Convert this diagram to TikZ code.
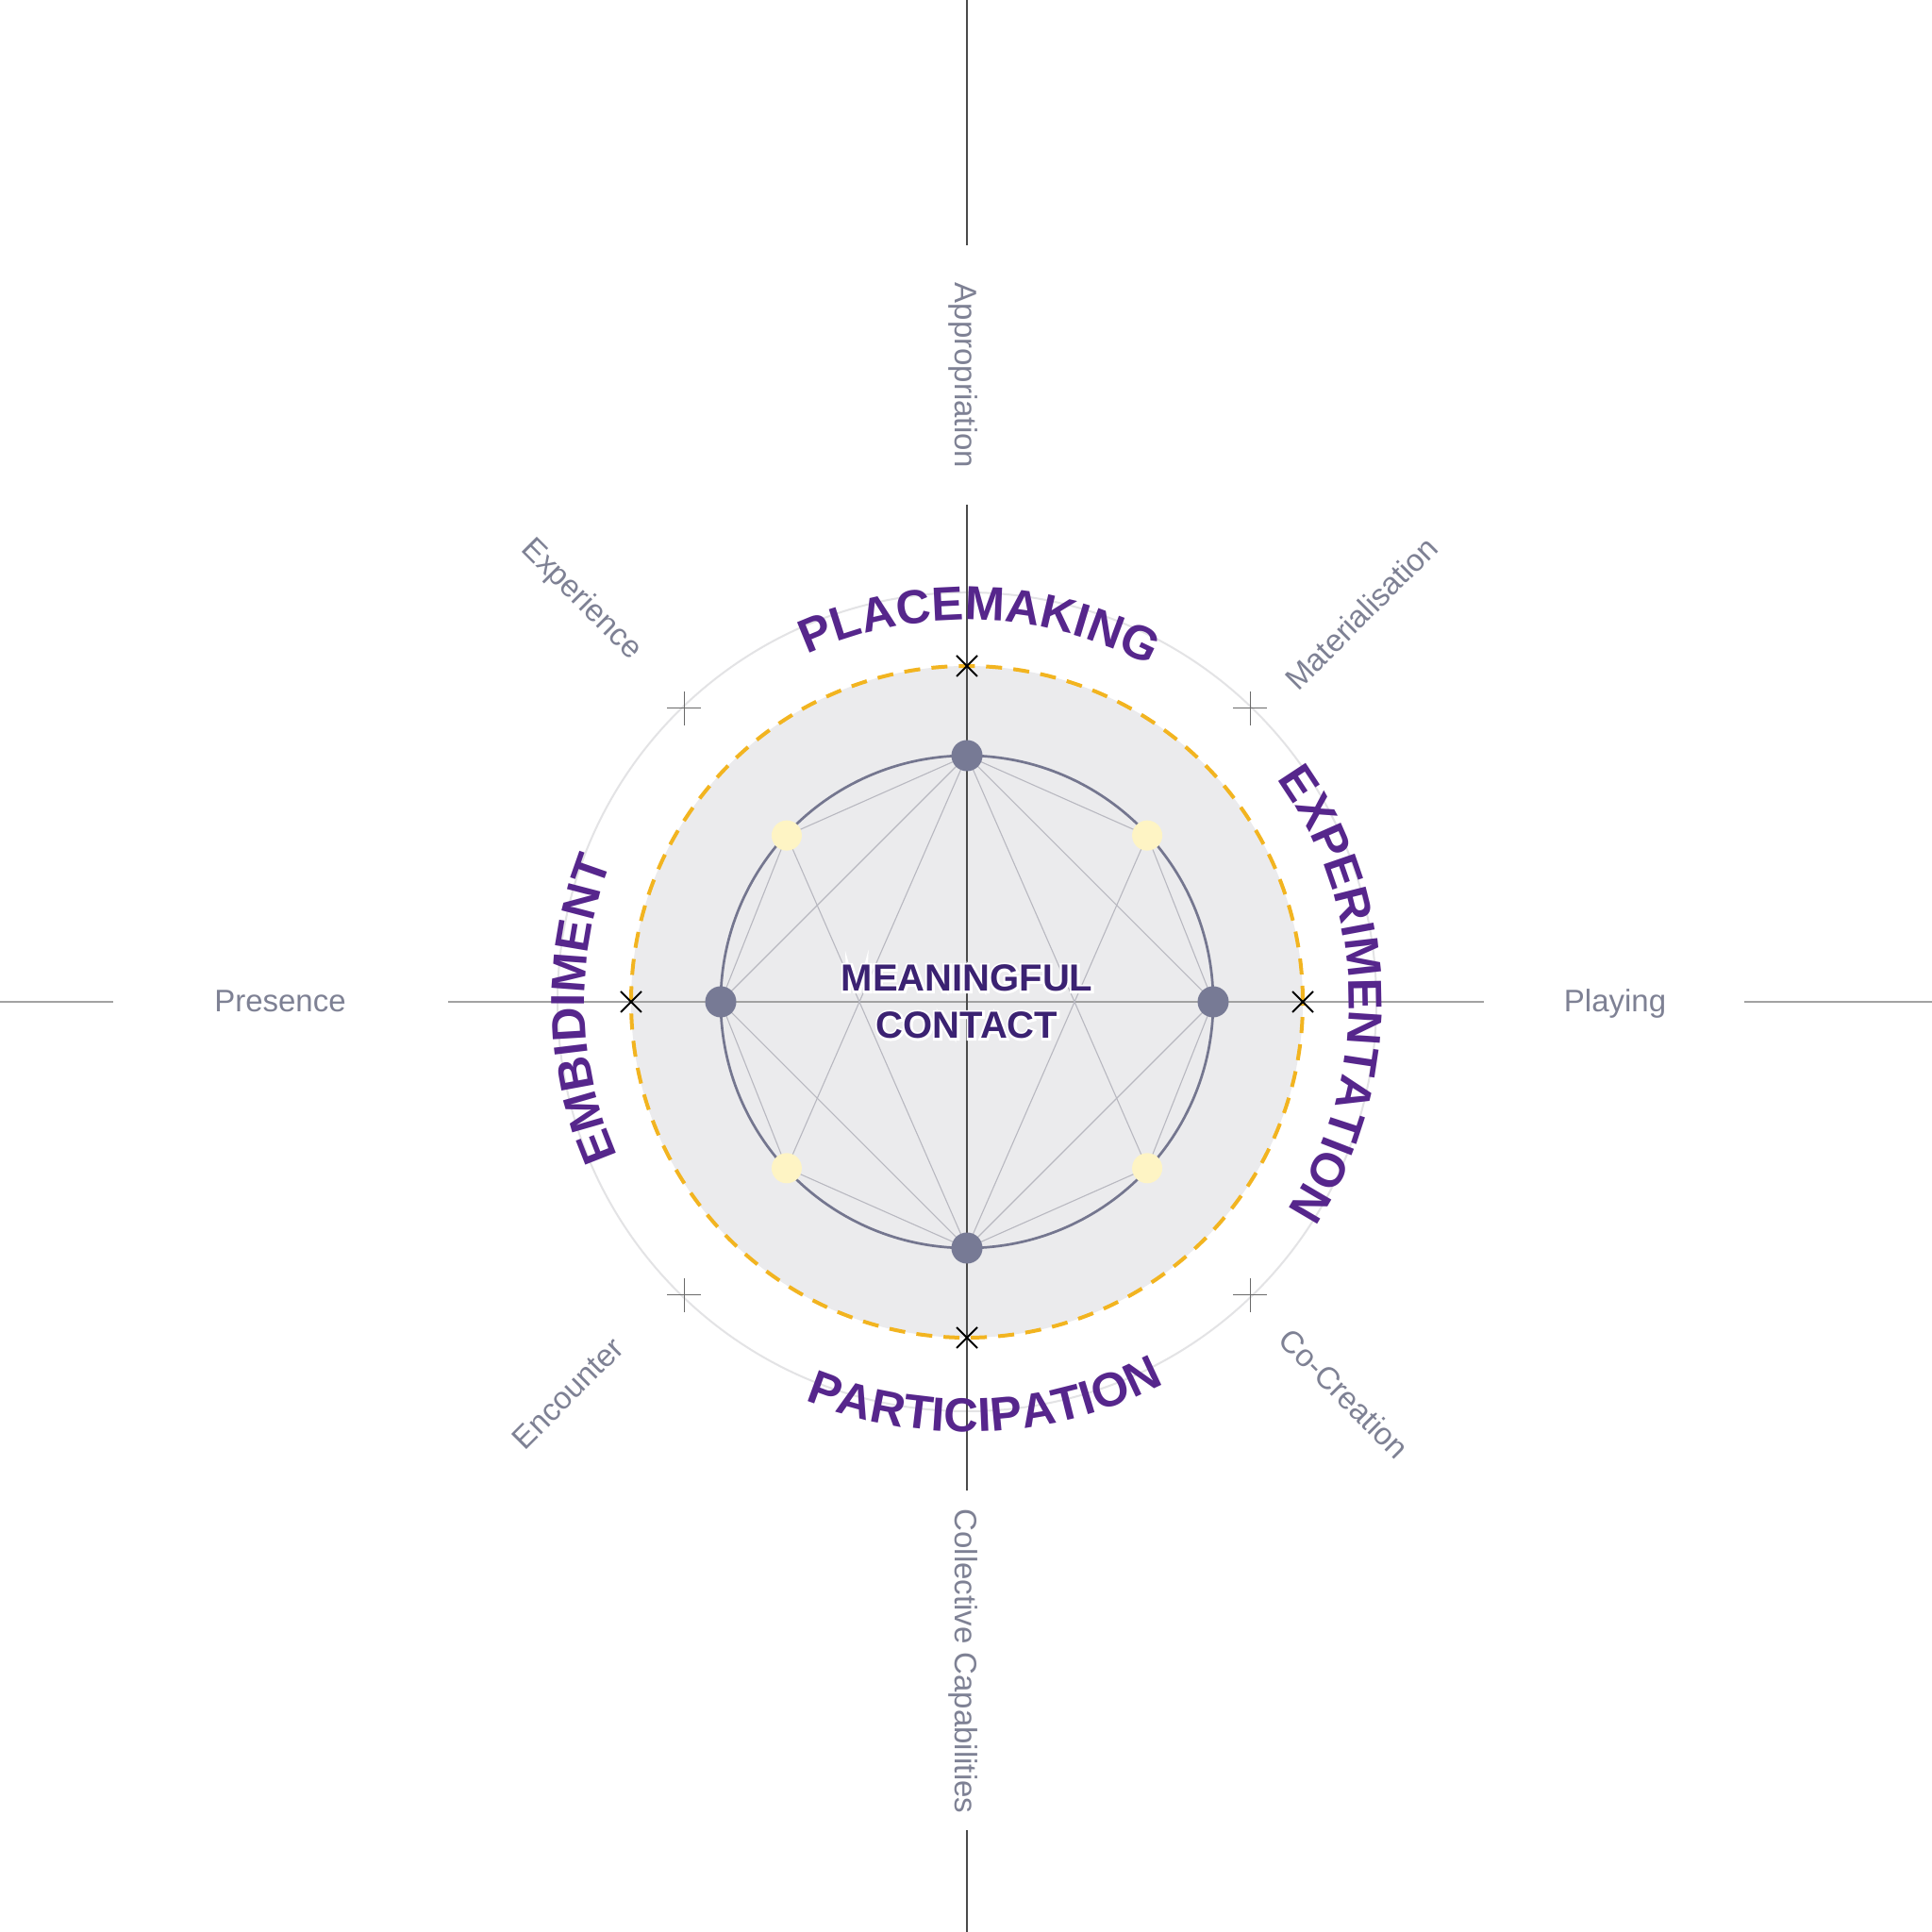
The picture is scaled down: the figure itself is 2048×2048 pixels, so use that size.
\documentclass[tikz,border=0pt]{standalone}
\usepackage{fontspec}
\setmainfont{Liberation Sans}
\newfontfamily\halofont[FakeBold=12]{Liberation Sans Bold}
\usetikzlibrary{decorations.text,calc,shapes.misc}
\definecolor{purp}{HTML}{56268C}
\definecolor{dpurp}{HTML}{3B2272}
\definecolor{lbl}{HTML}{7E8194}
\definecolor{diskc}{HTML}{EBEBED}
\definecolor{gold}{HTML}{F2B420}
\definecolor{ring}{HTML}{E3E3E5}
\definecolor{slate}{HTML}{777A95}
\definecolor{slatel}{HTML}{74768F}
\definecolor{chord}{HTML}{B8B8C0}
\definecolor{cream}{HTML}{FEF4C4}
\definecolor{axv}{HTML}{4A4A4A}
\definecolor{axh}{HTML}{A2A2A2}
\definecolor{crossc}{HTML}{6A6A6A}
\tikzset{
  lbltext/.style={text=lbl, font=\fontsize{16.5}{16.5}\selectfont, inner sep=0pt},
  gdot/.style={circle, fill=slate, minimum size=16.5pt, inner sep=0pt},
  ydot/.style={circle, fill=cream, minimum size=16pt, inner sep=0pt},
  chordline/.style={draw=chord, line width=0.55pt},
  xmk/.style={draw=black, cross out, minimum size=10pt, inner sep=0pt, line width=1pt},
  plusmk/.style={draw=crossc, cross out, rotate=45, minimum size=12pt, inner sep=0pt, line width=0.5pt},
  mctext/.style={font=\fontsize{20}{25}\selectfont\bfseries, align=center, inner sep=0pt},
  halotext/.style={font=\fontsize{20}{25}\selectfont\halofont, align=center, inner sep=0pt},
  vaxis/.style={draw=axv, line width=0.7pt},
  haxis/.style={draw=axh, line width=0.9pt},
}
\newcommand{\bigtxt}{\color{purp}\fontsize{25.3}{25.3}\selectfont\bfseries}
\begin{document}
\begin{tikzpicture}[x=0.5pt,y=0.5pt]
\useasboundingbox (0,0) rectangle (2048,2048);
\fill[white] (0,0) rectangle (2048,2048);
\begin{scope}[shift={(1025,986)}]
\coordinate (C) at (0,0);
% outer ring
\draw[ring, line width=1pt] (C) circle[radius=434];
% disk
\fill[diskc] (C) circle[radius=356];
\draw[gold, line width=2pt, dash pattern=on 8.5pt off 6pt] (C) circle[radius=356];
% axes
\coordinate (h1a) at (-1025,0); \coordinate (h1b) at (-905,0);
\coordinate (h2a) at (-550,0);  \coordinate (h2b) at (548,0);
\coordinate (h3a) at (824,0);   \coordinate (h3b) at (1023,0);
\coordinate (v1a) at (0,1062);  \coordinate (v1b) at (0,802);
\coordinate (v2a) at (0,527);   \coordinate (v2b) at (0,-518);
\coordinate (v3a) at (0,-878);  \coordinate (v3b) at (0,-986);
\draw[haxis] (h1a) -- (h1b);
\draw[haxis] (h2a) -- (h2b);
\draw[haxis] (h3a) -- (h3b);
\draw[vaxis] (v1a) -- (v1b);
\draw[vaxis] (v2a) -- (v2b);
\draw[vaxis] (v3a) -- (v3b);
% node positions
\coordinate (pT) at (90:261);
\coordinate (pB) at (270:261);
\coordinate (pL) at (180:261);
\coordinate (pR) at (0:261);
\coordinate (pTL) at (137.3:260);
\coordinate (pTR) at (42.7:260);
\coordinate (pBL) at (222.7:260);
\coordinate (pBR) at (317.3:260);
% chords
\foreach \a/\b in {pT/pTL,pT/pTR,pT/pL,pT/pR,pT/pBL,pT/pBR,
                   pB/pBL,pB/pBR,pB/pL,pB/pR,pB/pTL,pB/pTR,
                   pL/pTL,pL/pBL,pR/pTR,pR/pBR}
  \draw[chordline] (\a) -- (\b);
% inner circle
\draw[slatel, line width=1.35pt] (C) circle[radius=261];
% dots
\node[gdot] (T) at (pT) {};
\node[gdot] (B) at (pB) {};
\node[gdot] (L) at (pL) {};
\node[gdot] (R) at (pR) {};
\node[ydot] (TL) at (pTL) {};
\node[ydot] (TR) at (pTR) {};
\node[ydot] (BL) at (pBL) {};
\node[ydot] (BR) at (pBR) {};
% x marks on dashed circle
\node[xmk] (xT) at (0,356) {};
\node[xmk] (xB) at (0,-356) {};
\node[xmk] (xL) at (-356,0) {};
\node[xmk] (xR) at (356,0) {};
% plus marks on outer ring
\node[plusmk] (cTL) at (-300,311) {};
\node[plusmk] (cTR) at (300,311) {};
\node[plusmk] (cBL) at (-300,-311) {};
\node[plusmk] (cBR) at (300,-311) {};
% outer labels
\node[lbltext, anchor=base] (presence) at (-728,-11) {Presence};
\node[lbltext, anchor=base] (playing) at (687,-11) {Playing};
\node[lbltext, anchor=base, rotate=-90] (approp) at (-13,664) {Appropriation};
\node[lbltext, anchor=base, rotate=-90] (collcap) at (-13,-699) {Collective Capabilities};
\node[lbltext, rotate=-45] (experience) at (-409,426) {Experience};
\node[lbltext, rotate=45] (material) at (418,412) {Materialisation};
\node[lbltext, rotate=45] (encounter) at (-423,-415) {Encounter};
\node[lbltext, rotate=-45] (cocreation) at (400,-415) {Co-Creation};
% curved titles
\path[decorate, decoration={text along path, text align=center,
  text={|\bigtxt|PLACEMAKING}}] (133.05:405) arc[start angle=133.05, end angle=43.05, radius=405];
\path[decorate, decoration={text along path, text align=center,
  text={|\bigtxt|EXPERIMENTATION}}] (51.35:405) arc[start angle=51.35, end angle=-48.65, radius=405];
\path[decorate, decoration={text along path, text align=center,
  text={|\bigtxt|EMBIDIMENT}}] (231.15:405) arc[start angle=231.15, end angle=131.15, radius=405];
\path[decorate, decoration={text along path, text align=center,
  text={|\bigtxt|PARTICIPATION}}] (222.6:456) arc[start angle=222.6, end angle=322.6, radius=456];
% centre text with halo
\node[halotext, text=white] (halo) at (C) {MEANINGFUL\\CONTACT};
\node[mctext, text=dpurp] (mc) at (C) {MEANINGFUL\\CONTACT};
\end{scope}
\end{tikzpicture}
\end{document}
